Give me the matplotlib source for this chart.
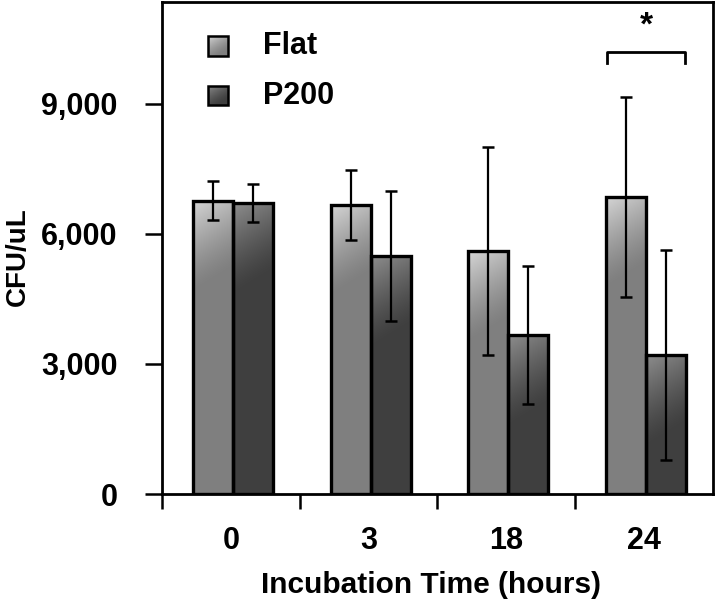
import numpy as np
import matplotlib
matplotlib.use("Agg")
import matplotlib.pyplot as plt
from matplotlib.ticker import FuncFormatter

categories = ["0", "3", "18", "24"]
series_names = ["Flat", "P200"]
flat_vals = [6760, 6670, 5600, 6850]
flat_err = [450, 800, 2400, 2300]
p200_vals = [6710, 5490, 3670, 3210]
p200_err = [430, 1500, 1600, 2420]
yticks = [0, 3000, 6000, 9000]

plt.rcParams['font.family'] = ['Liberation Sans', 'DejaVu Sans']
plt.rcParams['font.weight'] = 'bold'

fig = plt.figure(figsize=(7.2, 6.07), dpi=100)
ax = fig.add_axes([0.225, 0.186, 0.765, 0.811])

n = len(categories)
x = np.arange(n)
w = 0.29
off = 0.015
ax.set_xlim(-0.5, n - 0.5)
ax.set_ylim(0, 11350)

base_cols = [(0.50, 0.50, 0.50), (0.25, 0.25, 0.25)]
light_cols = [(0.84, 0.84, 0.84), (0.56, 0.56, 0.56)]

fig.canvas.draw()
(x0p, y0p), (x1p, y1p) = ax.transData.transform([(0, 0), (1, 1000)])
pxx = x1p - x0p
pxy = (y1p - y0p) / 1000.0

def grad_rect(left, bottom, width, height, si, lw, glen, z):
    rect = plt.Rectangle((left, bottom), width, height, facecolor='none',
                         edgecolor='black', linewidth=lw, zorder=z + 1)
    ax.add_patch(rect)
    ny, nx = 300, 40
    ys = np.linspace(height, 0, ny)
    xs = np.linspace(0, width, nx)
    XX, YY = np.meshgrid(xs, ys)
    d = (height - YY) * pxy + 0.6 * XX * pxx
    f = np.clip(1 - d / glen, 0, 1) ** 1.3
    b = np.array(base_cols[si]); l = np.array(light_cols[si])
    img = b[None, None, :] + f[:, :, None] * (l - b)[None, None, :]
    im = ax.imshow(img, extent=[left, left + width, bottom, bottom + height],
                   aspect='auto', origin='upper', zorder=z, interpolation='bilinear')
    im.set_clip_path(rect)
    return rect

for i in range(n):
    grad_rect(x[i] - w + off, 0, w, flat_vals[i], 0, 2.4, 90.0, 2)
    grad_rect(x[i] + off, 0, w, p200_vals[i], 1, 2.4, 90.0, 2)

ax.errorbar(x - w / 2 + off, flat_vals, yerr=flat_err, fmt='none', ecolor='black',
            elinewidth=1.6, capsize=4.5, capthick=1.8, zorder=4)
ax.errorbar(x + w / 2 + off, p200_vals, yerr=p200_err, fmt='none', ecolor='black',
            elinewidth=1.6, capsize=4.5, capthick=1.8, zorder=4)

ax.set_xlim(-0.5, n - 0.5)
ax.set_ylim(0, 11350)

# significance bracket
bx0 = x[3] - w + off + 0.01
bx1 = x[3] + w + off - 0.01
ax.plot([bx0, bx0, bx1, bx1], [9950, 10200, 10200, 9950], color='black', lw=2.0,
        zorder=5, clip_on=False)
ax.text((bx0 + bx1) / 2, 10780, "*", ha='center', va='center', fontsize=24,
        fontweight='bold')

# ticks
ax.set_yticks(yticks)
ax.yaxis.set_major_formatter(FuncFormatter(lambda v, p: f"{int(v):,}"))
ax.set_xticks(np.arange(-0.5, n - 0.5, 1.0))
ax.set_xticks(x, minor=True)
ax.set_xticklabels([])
ax.set_xticklabels(categories, minor=True)
ax.tick_params(axis='x', which='major', direction='out', length=11, width=1.8)
ax.tick_params(axis='x', which='minor', length=0, pad=23, labelsize=22)
ax.tick_params(axis='y', direction='out', length=12, width=1.8, labelsize=22, pad=20)
for lab in ax.get_xticklabels(minor=True) + ax.get_yticklabels():
    lab.set_fontweight('bold')
for sp in ax.spines.values():
    sp.set_linewidth(2.0)

ax.set_xlabel("Incubation Time (hours)", fontsize=21.5, fontweight='bold', va='center')
ax.xaxis.set_label_coords(0.488, -0.185)
ax.set_ylabel("CFU/uL", fontsize=20, fontweight='bold', va='center')
ax.yaxis.set_label_coords(-0.262, 0.482)

# legend (manual)
for j, (name, yv) in enumerate(zip(series_names, [10340, 9190])):
    grad_rect(-0.167, yv - 230, 0.145, 460, j, 1.8, 25.0, 5)
    ax.text(0.232, yv, name, fontsize=22, fontweight='bold', va='center', ha='left')

fig.savefig("out.png", dpi=100)
